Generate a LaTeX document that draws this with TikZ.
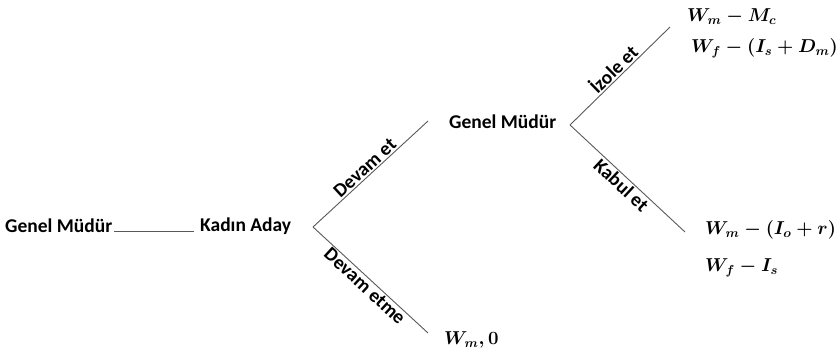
\documentclass[tikz,border=0pt]{standalone}
\usepackage{fontspec}
\setmainfont{Carlito}
\begin{document}
\begin{tikzpicture}[x=1pt,y=-1pt,
  txt/.style={inner sep=0pt,anchor=west,font=\bfseries\fontsize{19.5}{22}\selectfont},
  pay/.style={inner sep=0pt,anchor=west,scale=1.08,font=\fontsize{17.5}{21}\selectfont\boldmath},
  lbl/.style={inner sep=1.5pt,sloped,font=\bfseries\fontsize{19.5}{22}\selectfont},
  edge/.style={draw=black!65,line width=0.9pt}]
\useasboundingbox (0,0) rectangle (837,355);
% players
\node[txt] (gm1) at (5,226) {Genel Müdür};
\node[txt] (ka) at (200,226) {Kadın Aday};
\node[txt] (gm2) at (449,122) {Genel Müdür};
% decision points and branch ends
\coordinate (v1) at (313,227);
\coordinate (v1a) at (428,121);
\coordinate (v1b) at (428,333);
\coordinate (v2) at (570,125);
\coordinate (v2a) at (670,27);
\coordinate (v2b) at (685,232);
% payoffs
\node[pay] (p0) at (444,340) {$W_m, 0$};
\node[pay] (p1a) at (687,17) {$W_m - M_c$};
\node[pay] (p1b) at (691,48) {$W_f - (I_s + D_m)$};
\node[pay] (p2a) at (705,230) {$W_m - (I_o + r)$};
\node[pay] (p2b) at (705,268) {$W_f - I_s$};
% branches
\draw[edge] ([xshift=2pt]gm1.east |- 0,231) -- ([xshift=-6pt]ka.west |- 0,231);
\draw[edge] (v1) -- node[lbl,above] {Devam et} (v1a);
\draw[edge] (v1) -- node[lbl,below] {Devam etme} (v1b);
\draw[edge] (v2) -- node[lbl,above] {İzole et} (v2a);
\draw[edge] (v2) -- node[lbl,below] {Kabul et} (v2b);
\end{tikzpicture}
\end{document}
